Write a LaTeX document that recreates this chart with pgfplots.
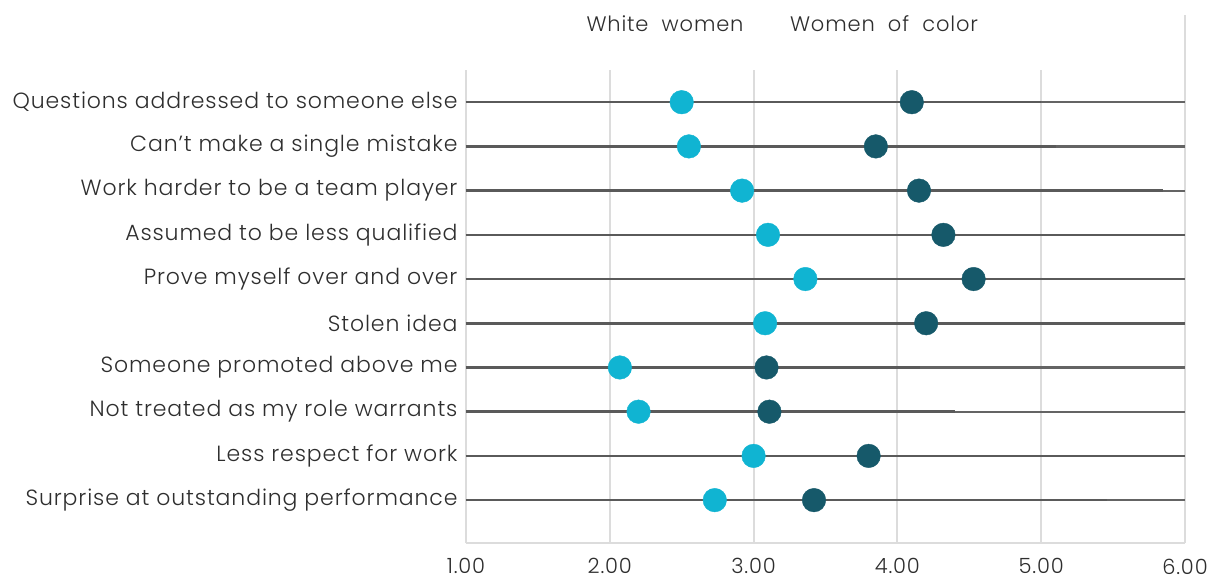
\documentclass[border=0pt]{standalone}
\usepackage{fontspec}
\setmainfont{Poppins}[UprightFont={* Light}, LetterSpace=4]
\usepackage{pgfplots}
\usepackage{pgfplotstable}
\pgfplotsset{compat=1.18}

\definecolor{whitew}{HTML}{10B4D2}
\definecolor{colorw}{HTML}{16596A}
\definecolor{rowline}{HTML}{646464}
\definecolor{rowdark}{HTML}{5A5A5A}
\definecolor{gridc}{HTML}{DCDCDC}
\definecolor{txt}{HTML}{2E2E2E}

% y: 10 = top row ... 1 = bottom row
\pgfplotstableread{
y  white color
10 2.50  4.10
9  2.55  3.85
8  2.92  4.15
7  3.10  4.32
6  3.36  4.53
5  3.08  4.20
4  2.07  3.09
3  2.20  3.11
2  3.00  3.80
1  2.73  3.42
}\survey

\begin{document}
\begin{tikzpicture}
\begin{axis}[
  width=719pt, height=528pt, scale only axis,
  xmin=1, xmax=6, ymin=0.027, ymax=11.97,
  clip=false,
  axis line style={draw=none},
  tick pos=left,
  xtick={1,2,3,4,5,6},
  x tick style={draw=none},
  xticklabel style={/pgf/number format/fixed, /pgf/number format/fixed zerofill, /pgf/number format/precision=2, /pgf/number format/assume math mode=true, yshift=-12pt, font=\fontsize{21}{25}\selectfont},
  ytick={1,...,10},
  yticklabels={Surprise at outstanding performance, Less respect for work, Not treated as my role warrants, Someone promoted above me, Stolen idea\ , Prove myself over and over\ , Assumed to be less qualified, Work harder to be a team player, Can't make a single mistake, Questions addressed to someone else},
  y tick style={draw=rowdark, line width=1.2pt},
  major tick length=5pt,
  every tick label/.append style={text=txt},
  yticklabel style={xshift=-5pt, font=\fontsize{22}{26}\selectfont},
]
% vertical reference lines
\addplot[gridc, line width=2pt, unbounded coords=jump] table {
x y
1 0.027
1 10.73
nan nan
2 0.027
2 10.73
nan nan
3 0.027
3 10.73
nan nan
4 0.027
4 10.73
nan nan
5 0.027
5 10.73
nan nan
6 0.027
6 11.97
nan nan
1 0.027
6 0.027
};
% row lines
\addplot[rowline, line width=2.2pt, unbounded coords=jump] table {
x y
1 10
6 10
nan nan
1 9
6 9
nan nan
1 8
6 8
nan nan
1 7
6 7
nan nan
1 6
6 6
nan nan
1 5
6 5
nan nan
1 4
6 4
nan nan
1 3
6 3
nan nan
1 2
6 2
nan nan
1 1
6 1
};
\addplot[rowdark, line width=2.5pt, unbounded coords=jump] table {
x y
1 10
5.00 10
nan nan
1 9
5.10 9
nan nan
1 8
5.85 8
nan nan
1 7
6 7
nan nan
1 6
6 6
nan nan
1 5
6 5
nan nan
1 4
4.16 4
nan nan
1 3
4.40 3
nan nan
1 2
6 2
nan nan
1 1
5.46 1
};
% dots
\addplot[only marks, mark=*, mark size=11.8pt, color=whitew] table[x=white, y=y] {\survey};
\addplot[only marks, mark=*, mark size=11.8pt, color=colorw] table[x=color, y=y] {\survey};
% series names
\node[anchor=base, font=\fontsize{21}{25}\selectfont, text=txt] at (axis cs:2.384,11.588) {White\ \ women};
\node[anchor=base, font=\fontsize{21}{25}\selectfont, text=txt] at (axis cs:3.907,11.588) {Women\ \ of\ \ color};
% page frame
\coordinate (bl) at (axis cs:-2.2406,-0.787);
\coordinate (tr) at (axis cs:6.1877,12.312);
\end{axis}
\pgfresetboundingbox
\path[use as bounding box] (bl) rectangle (tr);
\end{tikzpicture}
\end{document}
